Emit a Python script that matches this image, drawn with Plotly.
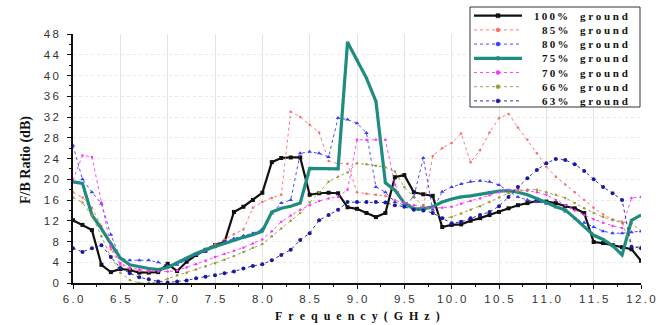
import plotly.graph_objects as go

freq = [6.0, 6.1, 6.2, 6.3, 6.4, 6.5, 6.6, 6.7, 6.8, 6.9,
        7.0, 7.1, 7.2, 7.3, 7.4, 7.5, 7.6, 7.7, 7.8, 7.9,
        8.0, 8.1, 8.2, 8.3, 8.4, 8.5, 8.6, 8.7, 8.8, 8.9,
        9.0, 9.1, 9.2, 9.3, 9.4, 9.5, 9.6, 9.7, 9.8, 9.9,
        10.0, 10.1, 10.2, 10.3, 10.4, 10.5, 10.6, 10.7, 10.8, 10.9,
        11.0, 11.1, 11.2, 11.3, 11.4, 11.5, 11.6, 11.7, 11.8, 11.9, 12.0]

g100 = [12.1, 11.2, 10.2, 3.5, 2.1, 2.7, 2.5, 2.0, 2.0, 2.1,
        3.7, 2.3, 4.1, 5.4, 6.4, 7.3, 7.9, 13.7, 14.7, 16.0,
        17.4, 23.3, 24.1, 24.2, 24.2, 17.0, 17.3, 17.4, 17.3, 14.6,
        14.3, 13.5, 12.7, 13.5, 20.4, 20.8, 17.5, 17.1, 16.8, 10.8,
        11.2, 11.3, 12.0, 12.5, 13.1, 13.7, 14.4, 15.0, 15.4, 15.8,
        15.7, 15.4, 14.8, 14.4, 13.5, 7.9, 7.7, 7.3, 6.9, 6.5, 4.3]

g85 = [17.5, 16.5, 14.5, 11.0, 6.5, 3.5, 2.7, 2.3, 2.2, 2.5,
       3.0, 3.8, 4.7, 5.6, 6.5, 7.4, 8.4, 9.4, 10.3, 14.5,
       15.6, 16.4, 17.0, 33.0, 32.0, 30.5, 29.0, 23.5, 23.0, 23.0,
       17.5, 17.2, 17.0, 16.8, 16.0, 15.2, 14.5, 14.5, 24.5, 26.0,
       27.0, 28.8, 23.3, 25.6, 29.0, 31.8, 32.6, 30.0, 27.6, 25.0,
       22.4, 20.5, 19.0, 17.5, 16.0, 14.5, 13.2, 12.3, 11.8, 11.5, 10.0]

g80 = [26.5, 20.0, 17.5, 15.3, 9.3, 4.8, 4.4, 4.4, 4.4, 4.0,
       3.3, 3.5, 4.5, 5.4, 6.0, 7.0, 7.9, 8.6, 9.1, 9.6,
       10.4, 13.4, 15.4, 16.0, 25.0, 25.3, 25.0, 24.3, 31.8, 31.5,
       30.8, 28.9, 18.5, 17.5, 15.6, 15.0, 16.6, 24.1, 14.1, 17.6,
       18.5, 19.1, 19.5, 19.7, 19.5, 18.9, 17.7, 16.6, 16.0, 15.6,
       15.3, 14.6, 13.8, 12.5, 11.6, 10.8, 10.0, 9.6, 9.6, 9.8, 10.0]

g75 = [19.5, 19.2, 13.1, 10.5, 7.6, 4.8, 3.5, 3.1, 2.8, 2.6,
       3.0, 3.9, 4.8, 5.7, 6.4, 7.0, 7.6, 8.3, 8.8, 9.3,
       10.0, 13.7, 14.4, 14.8, 15.4, 22.1, 22.1, 22.0, 22.0, 46.4,
       43.0, 39.5, 35.0, 19.3, 17.9, 15.4, 14.3, 14.3, 14.7, 15.6,
       16.2, 16.6, 16.8, 17.1, 17.5, 17.7, 17.8, 17.5, 17.0, 16.3,
       15.5, 14.7, 14.1, 12.5, 10.8, 9.2, 8.4, 7.2, 5.4, 12.1, 13.1]

g70 = [19.8, 24.6, 24.3, 15.5, 7.0, 3.8, 3.0, 2.6, 2.3, 2.2,
       2.2, 2.4, 3.0, 3.6, 4.3, 5.0, 5.6, 6.2, 6.8, 7.6,
       8.4, 10.0, 11.8, 13.0, 14.1, 15.0, 15.8, 16.3, 16.6, 18.0,
       27.6, 27.6, 27.6, 27.6, 19.0, 15.4, 15.0, 14.8, 14.5, 14.5,
       14.7, 15.3, 15.8, 16.3, 16.9, 17.5, 18.0, 18.0, 17.8, 17.5,
       17.0, 16.0, 15.0, 14.0, 13.1, 12.3, 11.6, 11.0, 10.6, 16.4, 16.6]

g66 = [16.5, 15.5, 13.0, 9.0, 5.0, 2.0, 0.6, 0.0, 0.0, 0.2,
       0.8, 1.5, 2.0, 2.6, 3.2, 3.8, 4.5, 5.2, 6.0, 6.8,
       7.5, 9.0, 10.5, 12.0, 13.5, 15.5, 17.5, 19.5, 20.5, 21.3,
       23.1, 22.9, 22.6, 22.3, 21.5, 18.5, 16.5, 15.0, 13.8, 12.6,
       12.7, 13.4, 14.1, 14.8, 15.6, 16.5, 17.3, 17.7, 18.0, 18.0,
       17.5, 17.0, 16.4, 15.4, 14.4, 13.5, 12.7, 12.1, 11.6, 7.0, 7.0]

g63 = [6.7, 6.0, 6.7, 7.3, 5.0, 2.9, 1.9, 1.1, 0.7, 0.3,
       0.1, 0.3, 0.5, 0.9, 1.2, 1.5, 1.9, 2.2, 2.8, 3.3,
       3.6, 4.4, 5.4, 6.4, 8.3, 9.6, 12.1, 13.1, 14.1, 15.6,
       15.6, 15.6, 15.6, 15.5, 15.0, 14.7, 14.1, 14.0, 13.5, 12.5,
       11.5, 11.8, 12.5, 13.1, 13.7, 14.8, 16.6, 18.5, 20.2, 21.8,
       23.1, 23.9, 23.7, 22.9, 21.6, 20.0, 18.5, 17.3, 16.0, 7.0, 6.7]

pct_labels = ["100%", "85%", "80%", "75%", "70%", "66%", "63%"]
suffix = "ground"
x_title = "Frequency(GHz)"
y_title = "F/B Ratio (dB)"
xt = [6.0, 6.5, 7.0, 7.5, 8.0, 8.5, 9.0, 9.5, 10.0, 10.5, 11.0, 11.5, 12.0]
yt = [0, 4, 8, 12, 16, 20, 24, 28, 32, 36, 40, 44, 48]

series = [g100, g85, g80, g75, g70, g66, g63]
styles = [
    dict(color="#111111", width=2.2, dash="solid", symbol="square", msize=4),
    dict(color="#ff6a6a", width=0.9, dash="dot", symbol="circle", msize=2.5),
    dict(color="#3a3aff", width=0.9, dash="dot", symbol="triangle-up", msize=4),
    dict(color="#1e8c7e", width=3.2, dash="solid", symbol="triangle-down", msize=3.5),
    dict(color="#ff30ff", width=0.9, dash="dot", symbol="circle", msize=2.5),
    dict(color="#9a9a35", width=0.9, dash="dot", symbol="circle", msize=2.5),
    dict(color="#1a1aa0", width=0.9, dash="dot", symbol="circle", msize=4),
]

fig = go.Figure()
for name, ys, st in zip(pct_labels, series, styles):
    fig.add_trace(go.Scatter(
        x=freq, y=ys, name=name + " " + suffix, mode="lines+markers",
        line=dict(color=st["color"], width=st["width"], dash=st["dash"]),
        marker=dict(symbol=st["symbol"], size=st["msize"], color=st["color"]),
        showlegend=False,
    ))

# ---- layout helpers: pixel -> paper coordinates of the plot area ----
W, H = 568.0, 249.0
L, T = 73.0, 34.0


def px_x(p):
    return (p - L) / W


def px_y(p):
    return (T + H - p) / H


serif_bold = dict(family="Liberation Serif", color="#111", weight="bold")

shapes = [dict(type="rect", xref="paper", yref="paper",
               x0=px_x(470), x1=px_x(640), y0=px_y(107), y1=px_y(7),
               fillcolor="white", line=dict(color="#333", width=1), layer="above")]
annotations = []
sym_map = {"square": "rect", "circle": "circle", "triangle-up": "circle",
           "triangle-down": "circle"}
for i, (lab, st) in enumerate(zip(pct_labels, styles)):
    yc = 15.7 + 14.2 * i
    shapes.append(dict(type="line", xref="paper", yref="paper",
                       x0=px_x(474), x1=px_x(522), y0=px_y(yc), y1=px_y(yc),
                       line=dict(color=st["color"], width=st["width"], dash=st["dash"]),
                       layer="above"))
    shapes.append(dict(type=sym_map[st["symbol"]], xref="paper", yref="paper",
                       xsizemode="pixel", ysizemode="pixel",
                       xanchor=px_x(498), yanchor=px_y(yc),
                       x0=-2, x1=2, y0=-2, y1=2,
                       fillcolor=st["color"], line=dict(color=st["color"], width=0.5),
                       layer="above"))
    annotations.append(dict(xref="paper", yref="paper", x=px_x(570), y=px_y(yc),
                            xanchor="right", yanchor="middle", showarrow=False,
                            text="\u2009".join(lab), font=dict(size=11, **serif_bold)))
    annotations.append(dict(xref="paper", yref="paper", x=px_x(578), y=px_y(yc),
                            xanchor="left", yanchor="middle", showarrow=False,
                            text=" ".join(suffix), font=dict(size=11, **serif_bold)))

# axis titles as annotations for exact placement
annotations.append(dict(xref="paper", yref="paper", x=0.5, y=px_y(316),
                        xanchor="center", yanchor="middle", showarrow=False,
                        text="\u00a0\u00a0".join(x_title), font=dict(size=12, **serif_bold)))
annotations.append(dict(xref="paper", yref="paper", x=px_x(26), y=px_y(160),
                        xanchor="center", yanchor="middle", showarrow=False, textangle=-90,
                        text=y_title, font=dict(size=14, **serif_bold)))


def spaced(s):
    return "\u2009".join(list(s))


tickfont = dict(family="Liberation Sans", size=11.5, color="#333")

fig.update_layout(
    width=659, height=325,
    margin=dict(l=73, r=18, t=34, b=42),
    paper_bgcolor="white", plot_bgcolor="white",
    showlegend=False,
    shapes=shapes,
    annotations=annotations,
    xaxis=dict(range=[6, 12], showline=True, linecolor="#111", linewidth=1.5,
               ticks="outside", ticklen=4, tickwidth=1.2, tickcolor="#111",
               tickvals=xt, ticktext=[spaced(f"{v:.1f}") for v in xt],
               tickfont=tickfont, automargin=False, ticklabelstandoff=0,
               minor=dict(dtick=0.25, ticks="outside", ticklen=2, tickcolor="#111", showgrid=False),
               showgrid=True, gridcolor="#e4e4e4", gridwidth=1, zeroline=False),
    yaxis=dict(range=[0, 48], showline=True, linecolor="#111", linewidth=1.5,
               ticks="outside", ticklen=4, tickwidth=1.2, tickcolor="#111",
               tickvals=yt, ticktext=[spaced(str(v)) for v in yt],
               tickfont=tickfont, automargin=False, ticklabelstandoff=6,
               minor=dict(dtick=2, ticks="outside", ticklen=2, tickcolor="#111", showgrid=False),
               showgrid=True, gridcolor="#e8e8e8", gridwidth=1, griddash="dot", zeroline=False),
)

fig.write_html("out.html")
